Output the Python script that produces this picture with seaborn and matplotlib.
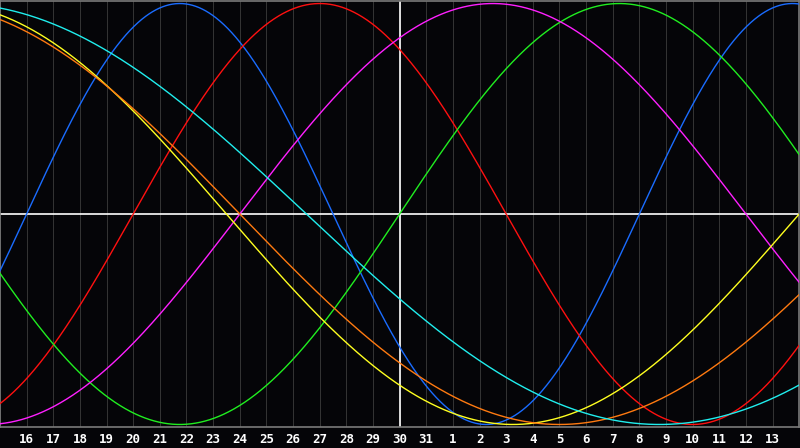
import numpy as np
import pandas as pd
import seaborn as sns
import matplotlib
matplotlib.use("Agg")
import matplotlib.pyplot as plt

# biorhythm: every cycle is a sine of the days lived, read back from the picture
today = pd.Timestamp("2013-05-30")
days_alive = 30558
cycles = ["physical", "emotional", "intellectual", "intuitive",
          "aesthetic", "awareness", "spiritual"]
periods = [23, 28, 33, 38, 43, 48, 53]
colours = ["#1a6cff", "#ff1010", "#20ee20", "#ff20ff",
           "#ffff20", "#ff7a10", "#20eeee"]
day_span = 15

offsets = np.linspace(-day_span, day_span, 1201)
rows = []
for name, p in zip(cycles, periods):
    vals = np.sin(2 * np.pi * (days_alive + offsets) / p)
    rows.append(pd.DataFrame({"offset": offsets, "value": vals, "cycle": name}))
df = pd.concat(rows, ignore_index=True)

days = pd.date_range(today - pd.Timedelta(days=day_span - 1),
                     today + pd.Timedelta(days=day_span - 1))
tick_pos = np.arange(-day_span + 1, day_span)
tick_lab = [str(d.day) for d in days]

sns.set_style("dark", {"axes.facecolor": "#050508", "figure.facecolor": "#050508"})

fig = plt.figure(figsize=(8, 4.48), dpi=100)
ax = fig.add_axes([0.0, (448 - 427) / 448, 0.999, 426 / 448])

for x in range(-day_span, day_span + 1):
    ax.axvline(x, color="#333333", lw=0.75, zorder=1)

sns.lineplot(data=df, x="offset", y="value", hue="cycle",
             palette=dict(zip(cycles, colours)), hue_order=cycles,
             legend=False, lw=1.0, ax=ax, zorder=3)

ax.axhline(0, color="white", lw=1.2, zorder=2)
ax.axvline(0, color="white", lw=1.2, zorder=2)

ax.set_xlim(-day_span, day_span)
ax.set_ylim(-1.012, 1.012)
ax.set_xticks(tick_pos)
ax.set_xticklabels(tick_lab, color="white", fontsize=9, fontweight="bold",
                   fontfamily="DejaVu Sans Mono")
ax.set_yticks([])
ax.tick_params(axis="x", length=0, pad=4.5)
ax.grid(False)
ax.set_xlabel("")
ax.set_ylabel("")
for s in ax.spines.values():
    s.set_visible(True)
    s.set_color("#7a7a7a")
    s.set_linewidth(1.2)

fig.savefig("out.png", dpi=100, facecolor="#050508")
